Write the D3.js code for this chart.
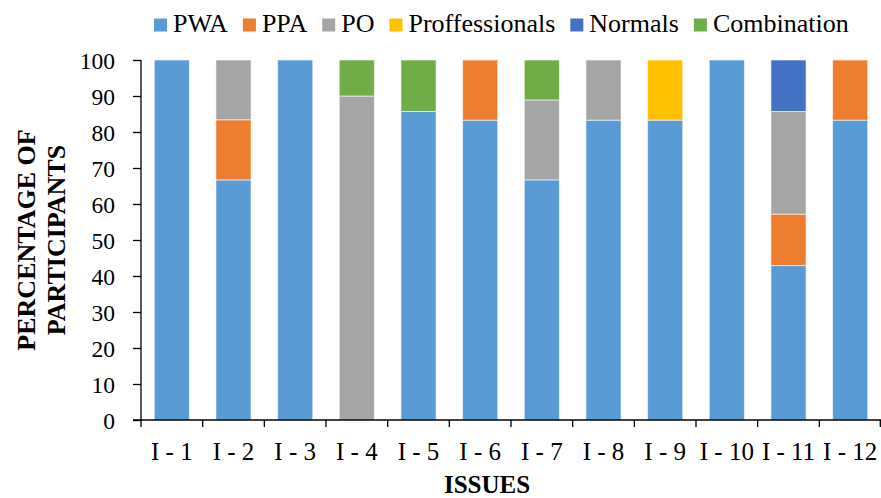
<!DOCTYPE html>
<html>
<head>
<meta charset="utf-8">
<script src="https://cdn.jsdelivr.net/npm/d3@7"></script>
<style>
  body { margin: 0; background: #fff; }
  svg text { font-family: "Liberation Serif", "Times New Roman", serif; fill: #000; }
</style>
</head>
<body>
<svg id="chart" width="881" height="498"></svg>
<script>
// Issues on the x axis
const issues = ["I - 1", "I - 2", "I - 3", "I - 4", "I - 5", "I - 6", "I - 7", "I - 8", "I - 9", "I - 10", "I - 11", "I - 12"];

// Percentage of participants per group, one value per issue
const PWA            = [100, 66.7, 100, 0, 85.7, 83.3, 66.7, 83.3, 83.3, 100, 42.9, 83.3];
const PPA            = [0, 16.7, 0, 0, 0, 16.7, 0, 0, 0, 0, 14.3, 16.7];
const PO             = [0, 16.6, 0, 90, 0, 0, 22.2, 16.7, 0, 0, 28.5, 0];
const Proffessionals = [0, 0, 0, 0, 0, 0, 0, 0, 16.7, 0, 0, 0];
const Normals        = [0, 0, 0, 0, 0, 0, 0, 0, 0, 0, 14.3, 0];
const Combination    = [0, 0, 0, 10, 14.3, 0, 11.1, 0, 0, 0, 0, 0];

const seriesNames = ["PWA", "PPA", "PO", "Proffessionals", "Normals", "Combination"];
const seriesValues = [PWA, PPA, PO, Proffessionals, Normals, Combination];
const colors = ["#5B9BD5", "#ED7D31", "#A5A5A5", "#FFC000", "#4472C4", "#70AD47"];
const yTicks = [0, 10, 20, 30, 40, 50, 60, 70, 80, 90, 100];

const rows = issues.map((iss, i) => {
  const r = { issue: iss };
  seriesNames.forEach((s, k) => { r[s] = seriesValues[k][i]; });
  return r;
});

const svg = d3.select("#chart");
const margin = { left: 141, right: 0, top: 60, bottom: 78 };
const W = 881, H = 498;

const x = d3.scaleBand().domain(issues).range([margin.left, W - margin.right]).paddingInner(0.43).paddingOuter(0.215);
const y = d3.scaleLinear().domain([0, 100]).range([H - margin.bottom, margin.top]);
const color = d3.scaleOrdinal().domain(seriesNames).range(colors);

const stacked = d3.stack().keys(seriesNames)(rows);

// Stacked bars
svg.append("g").selectAll("g")
  .data(stacked)
  .join("g")
  .attr("fill", d => color(d.key))
  .selectAll("rect")
  .data(d => d.filter(p => p[1] - p[0] > 0))
  .join("rect")
  .attr("x", d => x(d.data.issue))
  .attr("width", x.bandwidth())
  .attr("y", d => y(d[1]))
  .attr("height", d => y(d[0]) - y(d[1]))
  .attr("stroke", "rgba(255,255,255,0.6)")
  .attr("stroke-width", 1);

// Y axis
const yAxis = svg.append("g")
  .attr("transform", `translate(${margin.left},0)`)
  .call(d3.axisLeft(y).tickValues(yTicks).tickSize(8).tickPadding(18).tickFormat(d3.format("d")));
yAxis.selectAll("text").attr("font-size", 23.5).attr("dy", "0.34em");
yAxis.selectAll("line, path").attr("stroke", "#000").attr("stroke-width", 1.3);
yAxis.select(".domain").attr("d", `M0,${y(100)}V${y(0)}`);

// X axis with tick marks at category boundaries
const xAxisG = svg.append("g").attr("transform", `translate(0,${y(0)})`);
xAxisG.append("line")
  .attr("x1", margin.left - 8).attr("x2", W - margin.right)
  .attr("stroke", "#000").attr("stroke-width", 1.6);
const bounds = issues.map(d => x(d) - x.step() * x.paddingInner() / 2);
bounds.push(W - margin.right - 0.7);
bounds[0] = margin.left;
xAxisG.selectAll(".bt").data(bounds).join("line")
  .attr("x1", d => d).attr("x2", d => d)
  .attr("y1", 0).attr("y2", 7)
  .attr("stroke", "#000").attr("stroke-width", 1.3);
xAxisG.selectAll(".xl").data(issues).join("text")
  .attr("x", d => x(d) + x.bandwidth() / 2)
  .attr("y", 40)
  .attr("text-anchor", "middle")
  .attr("font-size", 25)
  .text(d => d);

// Axis titles
svg.append("text")
  .attr("x", 487).attr("y", 493)
  .attr("text-anchor", "middle").attr("font-size", 25).attr("font-weight", "bold")
  .text("ISSUES");

const yTitle = svg.append("text")
  .attr("transform", `translate(35,${(y(0) + y(100)) / 2}) rotate(-90)`)
  .attr("text-anchor", "middle").attr("font-size", 26).attr("font-weight", "bold");
yTitle.append("tspan").attr("x", 0).attr("dy", 0).text("PERCENTAGE OF");
yTitle.append("tspan").attr("x", 0).attr("dy", 30).text("PARTICIPANTS");

// Legend, laid out left to right
const legend = svg.append("g");
let lx = 154;
seriesNames.forEach(name => {
  const g = legend.append("g").attr("transform", `translate(${lx},0)`);
  g.append("rect").attr("x", 0).attr("y", 18.5).attr("width", 13).attr("height", 13)
    .attr("fill", color(name));
  const t = g.append("text").attr("x", 19).attr("y", 32).attr("font-size", 26).text(name);
  lx += 19 + t.node().getComputedTextLength() + 15;
});
</script>
</body>
</html>
